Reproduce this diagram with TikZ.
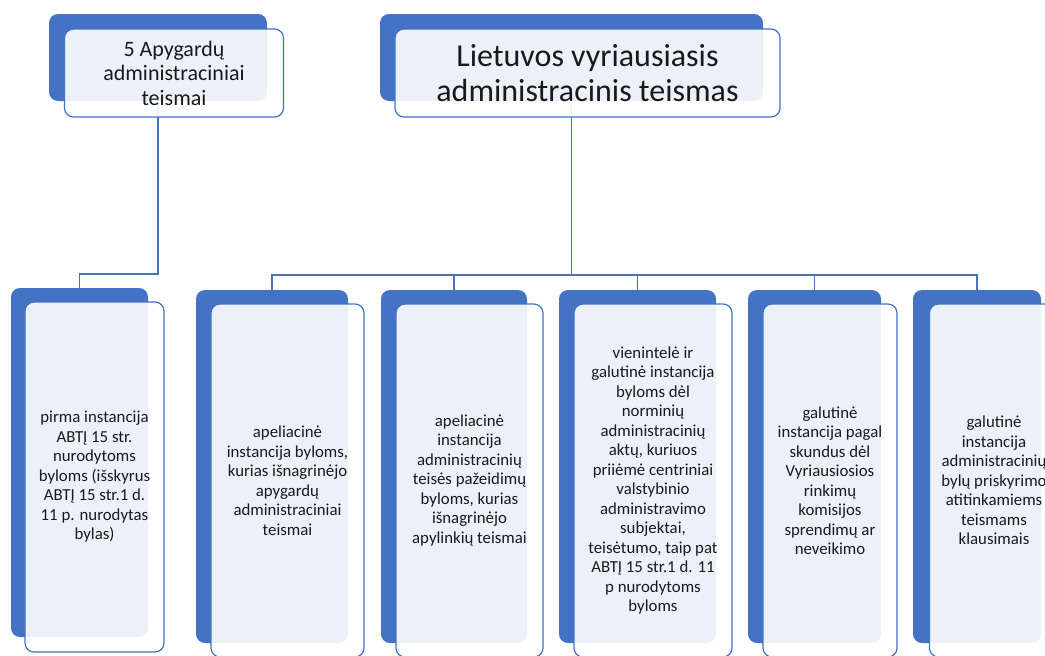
\documentclass[tikz,border=0pt]{standalone}
\usepackage{fontspec}
\setmainfont{Carlito}
\definecolor{accent}{HTML}{4472C4}
\definecolor{linec}{HTML}{4A72B8}
\begin{document}
\begin{tikzpicture}[x=1pt,y=-1pt,
  back/.style={draw=none, fill=accent, rounded corners=9pt, inner sep=0pt, shape=rectangle},
  front/.style={draw=accent, line width=1.2pt, fill=white, fill opacity=0.9, text opacity=1,
    rounded corners=9pt, inner sep=0pt, align=center, text=black!90, shape=rectangle},
  conn/.style={draw=linec, line width=1.6pt},
  small/.style={font=\fontsize{16.8}{19.5}\selectfont},
]
\useasboundingbox (0,0) rectangle (1045,656);
\clip (0,0) rectangle (1045,656);
\fill[white] (0,0) rectangle (1045,656);

% back (dark) shapes
\node[back, minimum width=218pt, minimum height=87pt] (tlb) at (158,57.5) {};
\node[back, minimum width=383pt, minimum height=87pt] (trb) at (571.5,57.5) {};
\node[back, minimum width=137pt, minimum height=349pt] (b1) at (79.5,462.5) {};
\node[back, minimum width=152pt, minimum height=353pt] (b2) at (272,466.5) {};
\node[back, minimum width=146pt, minimum height=353pt] (b3) at (454,466.5) {};
\node[back, minimum width=157pt, minimum height=353pt] (b4) at (637.5,466.5) {};
\node[back, minimum width=133pt, minimum height=353pt] (b5) at (814.5,466.5) {};
\node[back, minimum width=128pt, minimum height=353pt] (b6) at (977,466.5) {};

% connectors
\coordinate (busL) at (0,274);
\coordinate (busR) at (0,275);
\draw[conn] (tlb.south) -- (tlb.south |- busL) -| (b1.north);
\foreach \k in {b2,b3,b4,b5,b6}{
  \draw[conn] (trb.south) -- (trb.south |- busR) -| (\k.north);
}

% front shapes with text
\node[front, minimum width=219pt, minimum height=88pt, font=\fontsize{22}{24.5}\selectfont] (tlf) at (174,73)
  {5 Apygardų\\administraciniai\\teismai};
\node[front, minimum width=385pt, minimum height=88pt, font=\fontsize{32}{35}\selectfont] (trf) at (587.5,73)
  {Lietuvos vyriausiasis\\administracinis teismas};
\node[front, small, minimum width=139pt, minimum height=350pt] (f1) at (94.5,477)
  {pirma instancija\\ABTĮ 15 str.\\nurodytoms\\byloms (išskyrus\\ABTĮ 15 str.1 d.\\11 p. nurodytas\\bylas)};
\node[front, small, minimum width=153pt, minimum height=353pt] (f2) at (287.5,480.5)
  {apeliacinė\\instancija byloms,\\kurias išnagrinėjo\\apygardų\\administraciniai\\teismai};
\node[front, small, minimum width=147pt, minimum height=353pt] (f3) at (469.5,480.5)
  {apeliacinė\\instancija\\administracinių\\teisės pažeidimų\\byloms, kurias\\išnagrinėjo\\apylinkių teismai};
\node[front, small, minimum width=158pt, minimum height=353pt] (f4) at (653,480.5)
  {vienintelė ir\\galutinė instancija\\byloms dėl\\norminių\\administracinių\\aktų, kuriuos\\priiėmė centriniai\\valstybinio\\administravimo\\subjektai,\\teisėtumo, taip pat\\ABTĮ 15 str.1 d. 11\\p nurodytoms\\byloms};
\node[front, small, minimum width=134pt, minimum height=353pt] (f5) at (830,480.5)
  {galutinė\\instancija pagal\\skundus dėl\\Vyriausiosios\\rinkimų\\komisijos\\sprendimų ar\\neveikimo};
\node[front, small, minimum width=129pt, minimum height=353pt] (f6) at (994,480.5)
  {galutinė\\instancija\\administracinių\\bylų priskyrimo\\atitinkamiems\\teismams\\klausimais};
\end{tikzpicture}
\end{document}
